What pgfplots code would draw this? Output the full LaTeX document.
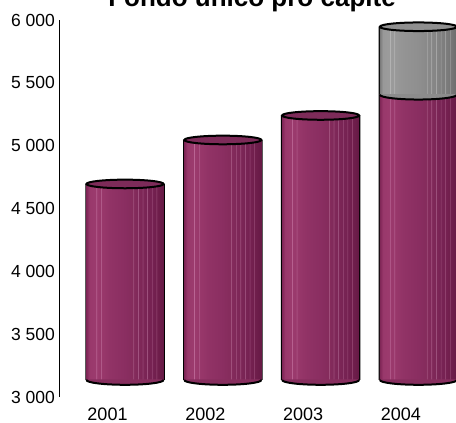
\documentclass[border=0pt]{standalone}
\usepackage{fontspec}
\setmainfont{Liberation Sans}
\usepackage{pgfplots}
\pgfplotsset{compat=1.18}

\pgfdeclarehorizontalshading{cylp}{100bp}{%
rgb(0bp)=(0.50,0.15,0.34);
rgb(25bp)=(0.50,0.15,0.34);
rgb(27bp)=(0.60,0.22,0.42);
rgb(31bp)=(0.61,0.23,0.43);
rgb(31.3bp)=(0.75,0.43,0.61);
rgb(31.8bp)=(0.61,0.23,0.43);
rgb(34bp)=(0.60,0.22,0.42);
rgb(34.3bp)=(0.72,0.40,0.58);
rgb(34.8bp)=(0.60,0.22,0.42);
rgb(40bp)=(0.57,0.20,0.40);
rgb(50bp)=(0.54,0.18,0.38);
rgb(55bp)=(0.52,0.17,0.36);
rgb(55.3bp)=(0.66,0.36,0.53);
rgb(55.8bp)=(0.52,0.17,0.36);
rgb(58bp)=(0.50,0.16,0.35);
rgb(58.3bp)=(0.68,0.38,0.55);
rgb(58.8bp)=(0.50,0.16,0.35);
rgb(61bp)=(0.49,0.15,0.34);
rgb(61.3bp)=(0.64,0.35,0.52);
rgb(61.8bp)=(0.49,0.15,0.34);
rgb(64bp)=(0.47,0.14,0.33);
rgb(64.3bp)=(0.63,0.33,0.50);
rgb(64.8bp)=(0.47,0.14,0.33);
rgb(67bp)=(0.46,0.13,0.32);
rgb(67.3bp)=(0.60,0.30,0.47);
rgb(67.8bp)=(0.46,0.13,0.32);
rgb(70bp)=(0.44,0.12,0.30);
rgb(70.3bp)=(0.58,0.28,0.45);
rgb(70.8bp)=(0.44,0.12,0.30);
rgb(75bp)=(0.40,0.10,0.27);
rgb(100bp)=(0.40,0.10,0.27)}

\pgfdeclarehorizontalshading{cylg}{100bp}{%
rgb(0bp)=(0.48,0.48,0.48);
rgb(25bp)=(0.48,0.48,0.48);
rgb(27bp)=(0.60,0.60,0.60);
rgb(31bp)=(0.61,0.61,0.61);
rgb(31.3bp)=(0.78,0.78,0.78);
rgb(31.8bp)=(0.61,0.61,0.61);
rgb(34bp)=(0.60,0.60,0.60);
rgb(34.3bp)=(0.76,0.76,0.76);
rgb(34.8bp)=(0.60,0.60,0.60);
rgb(40bp)=(0.58,0.58,0.58);
rgb(50bp)=(0.56,0.56,0.56);
rgb(55bp)=(0.54,0.54,0.54);
rgb(55.3bp)=(0.70,0.70,0.70);
rgb(55.8bp)=(0.54,0.54,0.54);
rgb(58bp)=(0.53,0.53,0.53);
rgb(58.3bp)=(0.72,0.72,0.72);
rgb(58.8bp)=(0.53,0.53,0.53);
rgb(61bp)=(0.52,0.52,0.52);
rgb(61.3bp)=(0.68,0.68,0.68);
rgb(61.8bp)=(0.52,0.52,0.52);
rgb(64bp)=(0.50,0.50,0.50);
rgb(64.3bp)=(0.67,0.67,0.67);
rgb(64.8bp)=(0.50,0.50,0.50);
rgb(67bp)=(0.49,0.49,0.49);
rgb(67.3bp)=(0.64,0.64,0.64);
rgb(67.8bp)=(0.49,0.49,0.49);
rgb(70bp)=(0.47,0.47,0.47);
rgb(70.3bp)=(0.62,0.62,0.62);
rgb(70.8bp)=(0.47,0.47,0.47);
rgb(75bp)=(0.42,0.42,0.42);
rgb(100bp)=(0.42,0.42,0.42)}

\definecolor{topp}{rgb}{0.49,0.17,0.35}
\definecolor{topg}{rgb}{0.56,0.56,0.56}
\definecolor{botp}{rgb}{0.53,0.18,0.37}
\definecolor{botg}{rgb}{0.55,0.55,0.55}

\pgfdeclareplotmark{ctop}{%
  \pgfpathellipse{\pgfpointorigin}{\pgfqpoint{38.5pt}{0pt}}{\pgfqpoint{0pt}{4.3pt}}%
  \pgfusepathqfillstroke}
\pgfdeclareplotmark{chalf}{%
  \pgfpathmoveto{\pgfqpoint{-38.5pt}{0.6pt}}%
  \pgfpathlineto{\pgfqpoint{-38.5pt}{0pt}}%
  \pgfpatharc{180}{360}{38.5pt and 4.8pt}%
  \pgfpathlineto{\pgfqpoint{38.5pt}{0.6pt}}%
  \pgfpathclose
  \pgfusepathqfill
  \pgfpathmoveto{\pgfqpoint{-38.5pt}{0pt}}%
  \pgfpatharc{180}{360}{38.5pt and 4.8pt}%
  \pgfusepathqstroke}

\begin{document}
\begin{tikzpicture}[x=1pt,y=1pt]
\begin{axis}[
  at={(59pt,26pt)}, anchor=south west,
  scale only axis, width=397pt, height=377pt,
  xmin=-0.496, xmax=3.563, ymin=3000, ymax=6000,
  axis lines=left, axis line style={-, line width=0.8pt},
  x axis line style={draw=none},
  xtick={0,1,2,3}, xticklabels={2001,2002,2003,2004},
  ytick={3000,3500,4000,4500,5000,5500,6000},
  yticklabels={3 000,3 500,4 000,4 500,5 000,5 500,6 000},
  major tick length=0pt,
  yticklabel style={font=\fontsize{17.5}{20}\selectfont, inner sep=0pt, xshift=-4pt},
  xticklabel style={font=\fontsize{18}{20}\selectfont, anchor=base, yshift=-23.5pt},
  clip=false,
]
% black side strips
\addplot[ybar, bar width=79.5pt, bar shift=17.5pt, yshift=17pt, fill=black, draw=none]
  coordinates {(0,4560) (1,4910) (2,5105) (3,5811)};
% bodies
\addplot[ybar, bar width=77pt, bar shift=17.5pt, yshift=17pt, draw=none, shading=cylg]
  coordinates {(3,5811)};
\addplot[ybar, bar width=77pt, bar shift=17.5pt, yshift=17pt, draw=none, shading=cylp]
  coordinates {(0,4560)};
\addplot[ybar, bar width=77pt, bar shift=17.5pt, yshift=17pt, draw=none, shading=cylp]
  coordinates {(1,4910)};
\addplot[ybar, bar width=77pt, bar shift=17.5pt, yshift=17pt, draw=none, shading=cylp]
  coordinates {(2,5105)};
\addplot[ybar, bar width=77pt, bar shift=17.5pt, yshift=17pt, draw=none, shading=cylp]
  coordinates {(3,5270)};
% bottoms
\addplot[only marks, mark=chalf, xshift=17.5pt, yshift=17pt, draw=black,
  mark options={fill=botp, draw=black, line width=2pt}]
  coordinates {(0,3000) (1,3000) (2,3000) (3,3000)};
% boundary in 2004
\addplot[only marks, mark=chalf, xshift=17.5pt, yshift=17pt, draw=black,
  mark options={fill=botg, draw=black, line width=2pt}]
  coordinates {(3,5270)};
% tops
\addplot[only marks, mark=ctop, xshift=17.5pt, yshift=17pt, draw=black,
  mark options={fill=topp, draw=black, line width=2pt}]
  coordinates {(0,4560) (1,4910) (2,5105)};
\addplot[only marks, mark=ctop, xshift=17.5pt, yshift=17pt, draw=black,
  mark options={fill=topg, draw=black, line width=2pt}]
  coordinates {(3,5811)};
\end{axis}
\node[font=\bfseries\fontsize{26}{30}\selectfont, anchor=base] at (252,416.5) {Fondo unico pro capite};
\pgfresetboundingbox
\useasboundingbox (0,0) rectangle (456,423);
\end{tikzpicture}
\end{document}
